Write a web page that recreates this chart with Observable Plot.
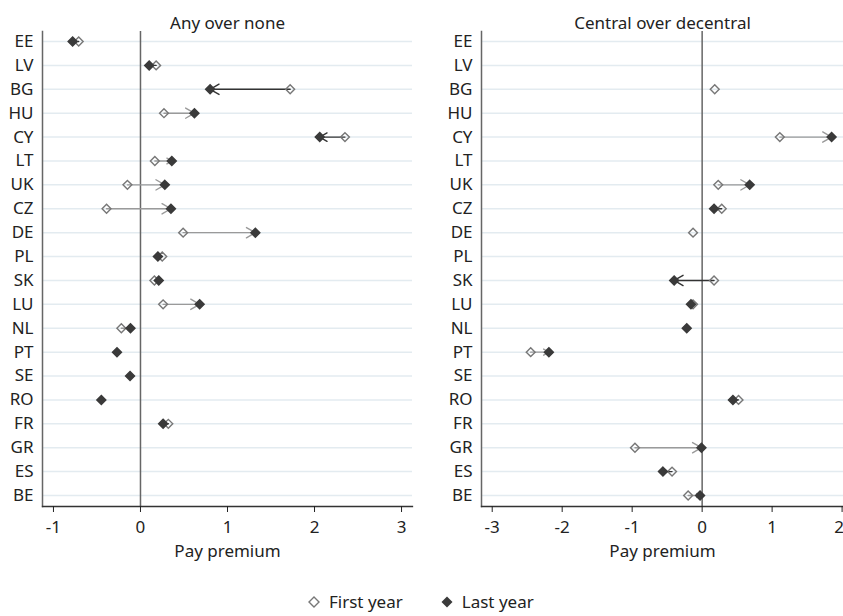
<!DOCTYPE html>
<html><head><meta charset="utf-8">
<script src="https://cdn.jsdelivr.net/npm/d3@7"></script>
<script src="https://cdn.jsdelivr.net/npm/@observablehq/plot@0.6"></script>
<style>
body{margin:0;background:#fff;font-family:"Noto Sans",sans-serif;color:#222;}
#charts{display:flex;width:843px;height:575px;}
#charts svg{overflow:visible;}
#legend{position:absolute;top:591px;left:308px;display:flex;align-items:center;font-size:17px;line-height:22px;}
#legend .item{display:flex;align-items:center;margin-right:38px;}
#legend svg{margin-right:9px;}
</style></head><body>
<div id="charts"><div id="left"></div><div id="right"></div></div>
<div id="legend">
  <div class="item"><svg width="12" height="12"><path d="M6,1L11,6L6,11L1,6Z" fill="none" stroke="#777" stroke-width="1.4"/></svg><span>First year</span></div>
  <div class="item"><svg width="12" height="12"><path d="M6,0.5L11.5,6L6,11.5L0.5,6Z" fill="#3a3a3a"/></svg><span>Last year</span></div>
</div>
<script>
const countries = ["EE","LV","BG","HU","CY","LT","UK","CZ","DE","PL","SK","LU","NL","PT","SE","RO","FR","GR","ES","BE"];
const anyFirst = [-0.71, 0.18, 1.72, 0.27, 2.35, 0.165, -0.15, -0.39, 0.49, 0.25, 0.16, 0.26, -0.22, null, null, null, 0.32, null, null, null];
const anyLast  = [-0.78, 0.10, 0.80, 0.62, 2.06, 0.36, 0.28, 0.35, 1.32, 0.20, 0.21, 0.68, -0.115, -0.27, -0.12, -0.45, 0.26, null, null, null];
const centralFirst = [null, null, 0.18, null, 1.11, null, 0.23, 0.28, -0.13, null, 0.17, -0.13, null, -2.45, null, 0.52, null, -0.96, -0.43, -0.20];
const centralLast  = [null, null, null, null, 1.85, null, 0.68, 0.17, null, null, -0.40, -0.16, -0.22, -2.19, null, 0.44, null, -0.01, -0.56, -0.03];
const anyTicks = [-1, 0, 1, 2, 3];
const centralTicks = [-3, -2, -1, 0, 1, 2];
const titles = ["Any over none", "Central over decentral"];
const xLabel = "Pay premium";

const fmt = d => d < 0 ? "-" + Math.abs(d) : String(d);

function panel(title, first, last, o) {
  const rows = countries.map((c, i) => ({country: c, first: first[i], last: last[i]}));
  const firstPts = rows.filter(d => d.first != null);
  const lastPts = rows.filter(d => d.last != null);
  const both = rows.filter(d => d.first != null && d.last != null);
  const up = both.filter(d => d.last >= d.first);
  const down = both.filter(d => d.last < d.first);
  const edgeTick = o.endLastTick ? o.ticks[o.ticks.length - 1] : null;
  return Plot.plot({
    width: o.width, height: 575,
    marginLeft: o.marginLeft, marginRight: o.marginRight, marginTop: 31, marginBottom: 69,
    style: {fontFamily: "Noto Sans", fontSize: "17px", color: "#222", background: "white", overflow: "visible"},
    x: {domain: o.domain, label: null},
    y: {domain: countries, type: "point", range: [41, 495], padding: 0, round: false, label: null},
    marks: [
      Plot.gridY(countries, {stroke: "#e3ebf0", strokeOpacity: 1, strokeWidth: 1.5}),
      Plot.ruleX([0], {stroke: "#666", strokeWidth: 1.5}),
      Plot.frame({anchor: "left", stroke: "#666", strokeWidth: 1.5}),
      Plot.frame({anchor: "bottom", stroke: "#333", strokeWidth: 1.3}),
      Plot.axisY({tickSize: 0, tickPadding: 9, fontSize: 17, label: null}),
      Plot.axisX({ticks: o.ticks, tickSize: 6, tickPadding: 8, fontSize: 17, label: null,
        tickFormat: d => d === edgeTick ? "" : fmt(d)}),
      ...(edgeTick != null ? [Plot.text([edgeTick], {x: d => d, text: fmt, frameAnchor: "bottom",
        lineAnchor: "top", textAnchor: "end", dx: 2, dy: 14, fontSize: 17, fill: "#222"})] : []),
      Plot.arrow(up, {x1: "first", x2: "last", y: "country", stroke: "#9a9a9a", strokeWidth: 1.4, headLength: 11}),
      Plot.arrow(down, {x1: "first", x2: "last", y: "country", stroke: "#333", strokeWidth: 1.4, headLength: 11}),
      Plot.dot(firstPts, {x: "first", y: "country", symbol: "diamond2", r: 4, stroke: "#777", fill: "none", strokeWidth: 1.4}),
      Plot.dot(lastPts, {x: "last", y: "country", symbol: "diamond2", r: 4, fill: "#3a3a3a", stroke: "#3a3a3a"}),
      Plot.text([title], {text: d => d, frameAnchor: "top", dy: -14.5, fontSize: 17, fill: "#222"}),
      Plot.text([xLabel], {text: d => d, frameAnchor: "bottom", dy: 50.5, fontSize: 17, fill: "#222"})
    ]
  });
}

document.getElementById("left").append(panel(titles[0], anyFirst, anyLast,
  {width: 420, marginLeft: 42, marginRight: 8, domain: [-1.126, 3.126], ticks: anyTicks}));
document.getElementById("right").append(panel(titles[1], centralFirst, centralLast,
  {width: 423, marginLeft: 61, marginRight: 0, domain: [-3.153, 2.02], ticks: centralTicks, endLastTick: true}));
</script>
</body></html>
